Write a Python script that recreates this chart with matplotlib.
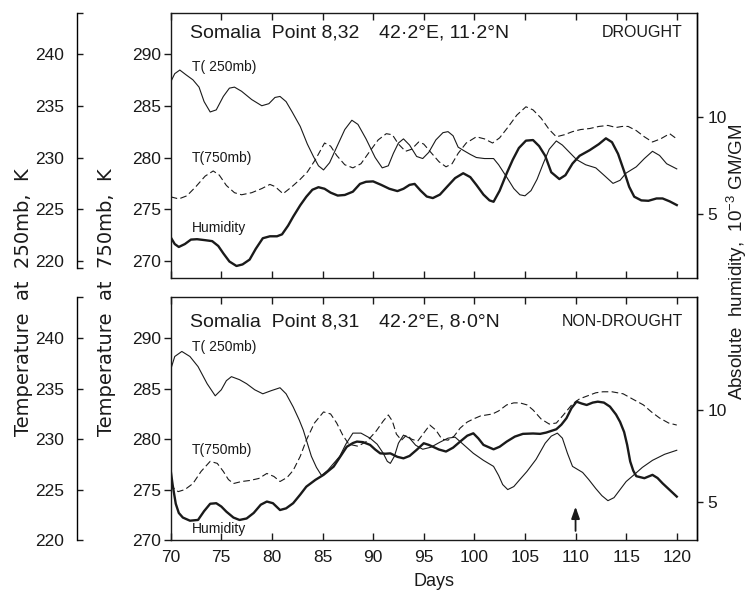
import matplotlib
matplotlib.use("Agg")
import matplotlib.pyplot as plt

plt.rcParams['font.family'] = ['Liberation Sans', 'DejaVu Sans']
plt.rcParams['mathtext.fontset'] = 'custom'
plt.rcParams['mathtext.rm'] = 'Liberation Sans'
plt.rcParams['mathtext.it'] = 'Liberation Sans'

INK = '#1a1a1a'
NARROW = ['Liberation Sans Narrow', 'Liberation Sans', 'DejaVu Sans']

# ---- drought panel (Somalia point 8,32) ----
# T(250mb) in K
top_t250_days = [70.0, 70.4, 70.9, 71.5, 72.2, 72.8, 73.3, 73.9, 74.5, 75.2, 75.8, 76.3, 77.0, 78.0, 79.0,
                 79.7, 80.3, 80.8, 81.4, 82.0, 82.8, 83.5, 84.1, 84.6, 85.1, 85.7, 86.4, 87.2, 87.9, 88.5,
                 89.3, 90.2, 90.9, 91.5, 92.0, 92.5, 93.0, 93.6, 94.3, 94.9, 95.5, 96.2, 96.9, 97.4, 97.9,
                 98.4, 98.9, 99.6, 100.2, 101.0, 101.9, 102.4, 103.2, 103.9, 104.5, 105.0, 105.6, 106.2,
                 106.8, 107.4, 108.1, 108.7, 109.4, 110.1, 111.0, 112.0, 112.8, 113.7, 114.4, 115.0, 116.0,
                 116.8, 117.6, 118.3, 119.0, 119.6, 120.0]
top_t250 = [237.3, 238.1, 238.45, 238.0, 237.5, 236.8, 235.4, 234.4, 234.6, 235.9, 236.7, 236.8, 236.4, 235.6,
            235.0, 235.2, 235.8, 235.9, 235.4, 234.4, 233.0, 231.3, 230.1, 229.2, 228.8, 229.5, 231.0, 232.7,
            233.6, 233.2, 231.8, 230.0, 229.0, 229.2, 230.4, 231.4, 231.8, 231.2, 230.1, 229.9, 230.5, 231.7,
            232.4, 232.5, 232.1, 231.0, 230.7, 230.3, 230.0, 229.9, 229.9, 229.3, 228.1, 227.0, 226.4, 226.3,
            226.8, 227.9, 229.4, 230.8, 231.6, 231.2, 230.5, 229.8, 229.3, 229.0, 228.3, 227.5, 227.8, 228.5,
            229.1, 229.9, 230.6, 230.2, 229.4, 229.1, 228.9]

# T(750mb) in K
top_t750_days = [70.0, 70.8, 71.6, 72.5, 73.4, 74.2, 74.8, 75.5, 76.3, 77.0, 78.0, 79.0, 79.8, 80.3, 81.1,
                 82.0, 82.8, 83.5, 84.3, 85.2, 85.8, 86.4, 87.2, 88.0, 88.8, 89.6, 90.5, 91.3, 91.9, 92.5,
                 93.2, 93.8, 94.5, 95.0, 95.7, 96.5, 97.2, 97.8, 98.4, 99.2, 100.2, 101.0, 101.8, 102.5,
                 103.3, 104.2, 105.1, 105.8, 106.6, 107.4, 108.1, 108.9, 109.7, 110.5, 111.4, 112.3, 113.2,
                 114.0, 114.6, 115.2, 116.0, 116.8, 117.6, 118.4, 119.3, 120.0]
top_t750 = [276.2, 276.0, 276.3, 277.2, 278.2, 278.7, 278.3, 277.3, 276.6, 276.4, 276.6, 277.0, 277.4, 277.2,
            276.5, 277.2, 277.9, 278.6, 279.8, 281.4, 281.1, 280.2, 279.3, 279.0, 279.4, 280.5, 281.7, 282.3,
            282.2, 281.3, 280.6, 280.8, 281.5, 281.3, 280.5, 279.6, 279.1, 279.4, 280.4, 281.4, 282.0, 281.8,
            281.4, 281.9, 282.9, 284.1, 284.9, 284.6, 283.8, 282.7, 282.0, 282.2, 282.5, 282.7, 282.8, 283.0,
            283.1, 282.9, 283.0, 283.0, 282.6, 282.0, 281.5, 281.8, 282.3, 281.8]

# absolute humidity, 1e-3 gm/gm
top_hum_days = [70.0, 70.4, 70.8, 71.4, 72.0, 72.6, 73.4, 74.1, 74.7, 75.2, 75.8, 76.5, 77.1, 77.8, 78.4,
                79.1, 79.8, 80.5, 81.0, 81.6, 82.1, 82.8, 83.4, 84.0, 84.6, 85.2, 85.8, 86.5, 87.2, 88.0,
                88.7, 89.3, 90.0, 90.8, 91.6, 92.4, 93.0, 93.6, 94.1, 94.7, 95.3, 95.9, 96.6, 97.3, 98.1,
                98.9, 99.6, 100.2, 100.9, 101.5, 101.9, 102.5, 103.2, 103.8, 104.4, 105.1, 105.8, 106.4,
                107.0, 107.6, 108.4, 109.0, 109.7, 110.4, 111.4, 112.3, 113.0, 113.6, 114.2, 114.8, 115.3,
                115.8, 116.5, 117.2, 118.0, 118.6, 119.3, 120.0]
top_hum = [3.8, 3.45, 3.3, 3.45, 3.68, 3.7, 3.65, 3.6, 3.35, 2.97, 2.55, 2.32, 2.4, 2.65, 3.2, 3.75, 3.85,
           3.85, 3.95, 4.4, 4.86, 5.45, 5.89, 6.25, 6.38, 6.3, 6.1, 5.95, 5.98, 6.15, 6.55, 6.66, 6.68, 6.5,
           6.3, 6.18, 6.3, 6.5, 6.55, 6.2, 5.9, 5.82, 6.0, 6.4, 6.85, 7.1, 6.9, 6.5, 6.0, 5.7, 5.63, 6.2,
           7.1, 7.8, 8.4, 8.78, 8.81, 8.5, 8.0, 7.15, 6.8, 7.0, 7.6, 8.0, 8.29, 8.6, 8.9, 8.7, 8.1, 7.2,
           6.4, 5.89, 5.7, 5.68, 5.8, 5.8, 5.65, 5.46]

# ---- non-drought panel (Somalia point 8,31) ----
bot_t250_days = [70.0, 70.4, 71.1, 71.9, 72.7, 73.6, 74.4, 75.0, 75.5, 76.0, 76.8, 77.5, 78.3, 79.1, 79.9,
                 80.8, 81.4, 82.1, 82.7, 83.1, 83.5, 83.9, 84.4, 84.9, 85.5, 86.1, 86.7, 87.3, 88.0, 88.8,
                 89.7, 90.4, 91.0, 91.4, 91.7, 92.1, 92.5, 93.0, 93.6, 94.2, 94.9, 95.7, 96.6, 97.4, 98.1,
                 99.0, 99.9, 100.9, 101.9, 102.4, 102.8, 103.3, 103.9, 104.5, 105.2, 106.1, 107.0, 107.6,
                 108.2, 108.7, 109.2, 109.7, 110.2, 110.7, 111.3, 112.0, 112.6, 113.2, 113.8, 114.4, 115.0,
                 115.7, 116.6, 117.6, 118.8, 120.0]
bot_t250 = [236.9, 238.2, 238.7, 238.2, 237.2, 235.5, 234.3, 234.9, 235.8, 236.2, 235.9, 235.5, 234.9, 234.5,
            234.8, 235.1, 234.5, 233.2, 231.9, 230.9, 229.6, 228.3, 227.2, 226.4, 226.9, 227.6, 228.3, 229.5,
            230.6, 230.6, 230.1, 229.5, 228.6, 227.8, 227.6, 228.3, 229.6, 230.4, 230.1, 229.4, 229.0, 229.2,
            229.7, 230.1, 230.2, 229.4, 228.6, 227.9, 227.3, 226.4, 225.5, 225.0, 225.3, 226.0, 226.8, 228.0,
            229.6, 230.3, 230.6, 230.1, 228.6, 227.3, 227.0, 226.7, 226.0, 225.1, 224.4, 223.9, 224.2, 225.0,
            225.8, 226.4, 227.2, 227.9, 228.5, 228.9]

bot_t750_days = [70.0, 70.4, 70.75, 71.4, 72.2, 73.0, 73.9, 74.6, 75.2, 75.7, 76.2, 77.0, 77.8, 78.7, 79.5,
                 80.2, 80.8, 81.5, 82.1, 82.8, 83.4, 84.2, 85.1, 85.8, 86.4, 87.0, 87.6, 88.5, 89.4, 90.3,
                 91.0, 91.5, 91.9, 92.3, 92.8, 93.3, 93.8, 94.4, 95.0, 95.6, 96.2, 96.8, 97.4, 98.0, 98.6,
                 99.3, 99.9, 100.6, 101.2, 101.8, 102.4, 103.2, 103.9, 104.5, 105.2, 105.8, 106.6, 107.4,
                 108.1, 108.8, 109.7, 110.4, 111.2, 112.0, 112.7, 113.6, 114.7, 115.6, 116.7, 117.5, 118.3,
                 119.2, 120.0]
bot_t750 = [275.6, 275.0, 274.8, 275.0, 275.6, 276.8, 277.8, 277.6, 276.8, 276.0, 275.6, 275.8, 275.9, 276.1,
            276.6, 276.3, 275.8, 276.2, 276.9, 278.3, 279.9, 281.6, 282.7, 282.5, 281.6, 280.4, 279.5, 279.3,
            279.8, 280.8, 281.8, 282.4, 281.8, 280.5, 279.9, 280.4, 280.0, 279.8, 280.6, 281.4, 280.9, 280.0,
            279.9, 280.3, 281.1, 281.7, 282.0, 282.3, 282.4, 282.5, 282.8, 283.4, 283.6, 283.6, 283.4, 282.9,
            282.0, 281.5, 281.6, 282.4, 283.5, 284.0, 284.3, 284.6, 284.7, 284.7, 284.5, 284.0, 283.4, 282.7,
            282.1, 281.6, 281.4]

bot_hum_days = [70.0, 70.2, 70.5, 70.8, 71.2, 71.9, 72.7, 73.3, 73.9, 74.5, 75.0, 75.5, 76.2, 76.8, 77.5,
                78.2, 78.9, 79.5, 80.1, 80.8, 81.4, 82.1, 82.8, 83.4, 84.3, 85.1, 86.1, 86.8, 87.4, 88.0,
                88.4, 89.0, 89.7, 90.2, 90.7, 91.2, 91.7, 92.4, 93.0, 93.6, 94.3, 95.0, 95.5, 95.9, 96.5,
                97.2, 97.9, 98.6, 99.3, 99.9, 100.4, 100.9, 101.9, 102.5, 103.2, 104.0, 104.8, 105.8, 106.5,
                107.1, 108.1, 108.6, 109.1, 109.6, 110.1, 110.6, 111.1, 111.7, 112.2, 112.8, 113.4, 114.0,
                114.4, 114.8, 115.1, 115.4, 115.7, 116.0, 116.8, 117.6, 118.1, 118.6, 119.3, 120.0]
bot_hum = [6.7, 5.9, 4.9, 4.4, 4.15, 3.98, 4.02, 4.5, 4.9, 4.93, 4.75, 4.47, 4.15, 4.02, 4.1, 4.4, 4.85,
           5.02, 4.93, 4.56, 4.65, 4.93, 5.4, 5.83, 6.2, 6.47, 6.92, 7.5, 8.0, 8.2, 8.28, 8.25, 8.1, 7.85,
           7.64, 7.62, 7.64, 7.45, 7.37, 7.5, 7.83, 8.19, 8.1, 8.0, 7.85, 7.74, 7.95, 8.28, 8.6, 8.73, 8.45,
           8.1, 7.86, 8.0, 8.28, 8.55, 8.7, 8.72, 8.7, 8.77, 8.95, 9.2, 9.55, 10.1, 10.45, 10.35, 10.27,
           10.4, 10.45, 10.4, 10.18, 9.75, 9.35, 8.8, 8.1, 7.2, 6.7, 6.4, 6.29, 6.47, 6.3, 6.01, 5.65, 5.29]

x_ticks = [70, 75, 80, 85, 90, 95, 100, 105, 110, 115, 120]
t750_ticks = [270, 275, 280, 285, 290]
t250_ticks = [220, 225, 230, 235, 240]
hum_ticks = [5, 10]
arrow_day = 110
arrow_span = (270.9, 273.3)

W, H = 748, 593
fig = plt.figure(figsize=(W / 100, H / 100), dpi=100)
TICK_FS = 12.5


def px_rect(x0, y0, x1, y1):
    return [x0 / W, 1 - y1 / H, (x1 - x0) / W, (y1 - y0) / H]


def panel(rect, klim, hlim, out_bounds, show_x):
    ax = fig.add_axes(rect)
    ax.set_xlim(70, 122)
    ax.set_ylim(*klim)
    ax.set_xticks(x_ticks)
    ax.set_yticks(t750_ticks)
    for sp in ax.spines.values():
        sp.set_linewidth(1.0)
        sp.set_color(INK)
    ax.tick_params(axis='y', direction='out', length=5, width=1, pad=2,
                   labelsize=TICK_FS, colors=INK, right=False)
    ax.tick_params(axis='x', direction='in', length=5, width=1, top=True, bottom=True,
                   labelsize=TICK_FS, pad=7, colors=INK, labelbottom=show_x)

    # outer axis for T(250mb)
    ao = ax.twinx()
    ao.set_ylim(klim[0] - 50, klim[1] - 50)
    ao.yaxis.set_ticks_position('left')
    ao.yaxis.set_label_position('left')
    for k in ('right', 'top', 'bottom'):
        ao.spines[k].set_visible(False)
    ao.spines['left'].set_visible(True)
    ao.spines['left'].set_position(('outward', 67.7))
    ao.spines['left'].set_bounds(*out_bounds)
    ao.spines['left'].set_linewidth(1.0)
    ao.set_yticks(t250_ticks)
    ao.set_yticks(list(out_bounds), minor=True)
    ao.tick_params(axis='y', which='both', direction='in', length=4, width=1, pad=9,
                   labelsize=TICK_FS, colors=INK)

    # right axis for humidity
    ah = ax.twinx()
    ah.set_ylim(*hlim)
    for k in ('left', 'top', 'bottom'):
        ah.spines[k].set_visible(False)
    ah.spines['right'].set_linewidth(1.0)
    ah.set_yticks(hum_ticks)
    ah.tick_params(axis='y', direction='out', length=4, width=1, pad=3.5,
                   labelsize=TICK_FS, colors=INK)
    return ax, ao, ah


LAB_FS = 10
HEAD_FS = 14
TAG_FS = 11.5

# top panel
ax1, ao1, ah1 = panel(px_rect(170.7, 13, 697, 278), (268.36, 293.96), (1.70, 15.36),
                      (219.3, 243.96), False)
ao1.plot(top_t250_days, top_t250, color=INK, lw=0.8)
ax1.plot(top_t750_days, top_t750, color=INK, lw=0.8, ls=(0, (6, 3)))
ah1.plot(top_hum_days, top_hum, color=INK, lw=1.7)

ax1.text(0.037, 0.925, 'Somalia  Point 8,32', transform=ax1.transAxes, family=NARROW,
         fontsize=HEAD_FS, va='center', ha='left', color=INK)
ax1.text(0.395, 0.925, '42·2°E, 11·2°N', transform=ax1.transAxes, family=NARROW,
         fontsize=HEAD_FS, va='center', ha='left', color=INK)
ax1.text(0.973, 0.925, 'DROUGHT', transform=ax1.transAxes, family=NARROW,
         fontsize=TAG_FS, va='center', ha='right', color=INK)
ax1.text(0.04, 0.797, 'T( 250mb)', transform=ax1.transAxes, fontsize=LAB_FS, va='center', color=INK)
ax1.text(0.04, 0.452, 'T(750mb)', transform=ax1.transAxes, fontsize=LAB_FS, va='center', color=INK)
ax1.text(0.04, 0.19, 'Humidity', transform=ax1.transAxes, fontsize=LAB_FS, va='center', color=INK)

# bottom panel
ax2, ao2, ah2 = panel(px_rect(170.7, 297, 697, 540), (270.0, 294.1), (2.93, 16.14),
                      (220.0, 244.1), True)
ao2.plot(bot_t250_days, bot_t250, color=INK, lw=0.8)
ax2.plot(bot_t750_days, bot_t750, color=INK, lw=0.8, ls=(0, (6, 3)))
ah2.plot(bot_hum_days, bot_hum, color=INK, lw=1.7)

ax2.text(0.037, 0.898, 'Somalia  Point 8,31', transform=ax2.transAxes, family=NARROW,
         fontsize=HEAD_FS, va='center', ha='left', color=INK)
ax2.text(0.395, 0.898, '42·2°E, 8·0°N', transform=ax2.transAxes, family=NARROW,
         fontsize=HEAD_FS, va='center', ha='left', color=INK)
ax2.text(0.973, 0.898, 'NON-DROUGHT', transform=ax2.transAxes, family=NARROW,
         fontsize=TAG_FS, va='center', ha='right', color=INK)
ax2.text(0.04, 0.795, 'T( 250mb)', transform=ax2.transAxes, fontsize=LAB_FS, va='center', color=INK)
ax2.text(0.04, 0.37, 'T(750mb)', transform=ax2.transAxes, fontsize=LAB_FS, va='center', color=INK)
ax2.text(0.04, 0.044, 'Humidity', transform=ax2.transAxes, fontsize=LAB_FS, va='center', color=INK)
ax2.annotate('', xy=(arrow_day, arrow_span[1]), xytext=(arrow_day, arrow_span[0]),
             arrowprops=dict(arrowstyle='-|>,head_width=0.25,head_length=0.7', lw=1.3,
                             color=INK, mutation_scale=10, shrinkA=0, shrinkB=0))
ax2.set_xlabel('Days', fontsize=13, labelpad=6, color=INK)

# axis titles
fig.text(24 / W, 1 - 302 / H, 'Temperature  at  250mb,  K', rotation=90, fontsize=14,
         family=['DejaVu Sans'], ha='center', va='center', color=INK)
fig.text(106 / W, 1 - 302 / H, 'Temperature  at  750mb,  K', rotation=90, fontsize=14,
         family=['DejaVu Sans'], ha='center', va='center', color=INK)
fig.text(737 / W, 1 - 262 / H, r'Absolute  humidity,  $10^{-3}$ GM/GM', rotation=90, fontsize=13.5,
         ha='center', va='center', color=INK)

fig.savefig('out.png', dpi=100, facecolor='white')
